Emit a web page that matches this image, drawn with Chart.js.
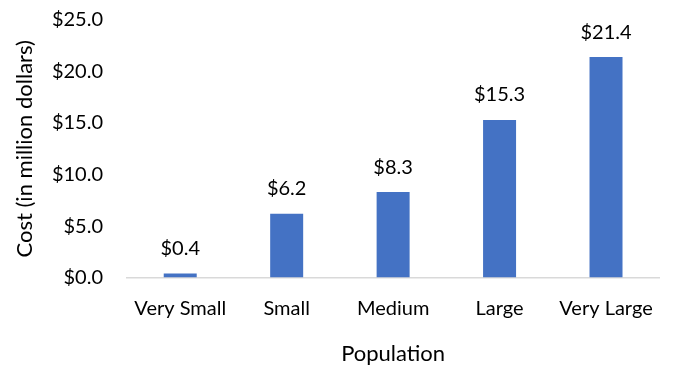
<!DOCTYPE html>
<html>
<head>
<meta charset="utf-8">
<script src="https://cdn.jsdelivr.net/npm/chart.js@4/dist/chart.umd.min.js"></script>
<style>
html,body{margin:0;padding:0;background:#fff;}
#wrap{width:673px;height:367px;}
</style>
</head>
<body>
<div id="wrap"><canvas id="c" width="673" height="367"></canvas></div>
<script>
const categories = ["Very Small", "Small", "Medium", "Large", "Very Large"];
const costValues = [0.4, 6.2, 8.3, 15.3, 21.4];
const yTicks = [0, 5, 10, 15, 20, 25];

const FONT = "Lato, 'Open Sans', sans-serif";

const barLabels = {
  id: 'barLabels',
  afterDatasetsDraw(chart) {
    const ctx = chart.ctx;
    const meta = chart.getDatasetMeta(0);
    ctx.save();
    ctx.font = "20px " + FONT;
    ctx.fillStyle = "#000";
    ctx.textAlign = "center";
    ctx.textBaseline = "bottom";
    meta.data.forEach((el, i) => {
      ctx.fillText("$" + costValues[i].toFixed(1), el.x, el.y - 15);
    });
    ctx.restore();
  }
};

function build() {
  new Chart(document.getElementById('c'), {
    type: 'bar',
    data: {
      labels: categories,
      datasets: [{
        data: costValues,
        backgroundColor: '#4472C4',
        categoryPercentage: 0.62,
        barPercentage: 0.5
      }]
    },
    options: {
      responsive: false,
      animation: false,
      layout: { padding: { top: 0, right: 13, left: 12, bottom: 0 } },
      plugins: { legend: { display: false }, tooltip: { enabled: false } },
      scales: {
        x: {
          grid: { display: false, drawTicks: false },
          border: { display: true, color: '#d9d9d9', width: 1.5 },
          ticks: { color: '#000', font: { family: FONT, size: 20 }, padding: 19, maxRotation: 0 },
          title: { display: true, text: 'Population', color: '#000', font: { family: FONT, size: 22 }, padding: { top: 1, bottom: 0 } }
        },
        y: {
          min: 0, max: 25,
          afterBuildTicks(scale) { scale.ticks = yTicks.map(v => ({ value: v })); },
          afterFit(scale) { scale.width = 115; scale.paddingTop = 20; scale.paddingBottom = 12; },
          grid: { display: false, drawTicks: false },
          border: { display: false },
          ticks: { color: '#000', font: { family: FONT, size: 20 }, padding: 24,
            callback: v => '$' + Number(v).toFixed(1) },
          title: { display: true, text: 'Cost (in million dollars)', color: '#000', font: { family: FONT, size: 22 }, padding: { top: 0, bottom: 6 } }
        }
      }
    },
    plugins: [barLabels]
  });
}
if (document.fonts && document.fonts.load) {
  Promise.all([document.fonts.load("20px Lato"), document.fonts.load("22px Lato")]).then(build, build);
} else { build(); }
</script>
</body>
</html>
